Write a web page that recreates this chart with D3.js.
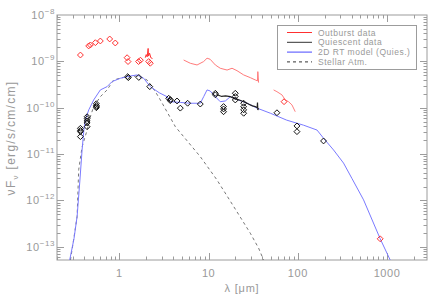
<!DOCTYPE html>
<html><head><meta charset="utf-8">
<script src="https://cdn.jsdelivr.net/npm/d3@7"></script>
<style>body{margin:0;background:#fff}svg{display:block}text{font-family:"Liberation Sans","DejaVu Sans",sans-serif;fill:#999}</style>
</head><body><svg id="c" width="441" height="299"></svg>
<script>
// ---- data ----
const xTicks = [1, 10, 100, 1000];
const xTickLabels = ["1", "10", "100", "1000"];
const yTickExps = [-8, -9, -10, -11, -12, -13];
const legendLabels = ["Outburst data", "Quiescent data", "2D RT model (Quies.)", "Stellar Atm."];

const outburstPhotX = [0.366, 0.453, 0.473, 0.538, 0.612, 0.779, 0.90, 1.22, 1.25, 1.64, 1.72, 2.13, 2.22, 70, 837];
const outburstPhotY = [1.37e-9, 2.15e-9, 2.26e-9, 2.53e-9, 2.75e-9, 3.04e-9, 2.49e-9, 1.2e-9, 0.99e-9, 0.99e-9, 1.06e-9, 0.99e-9, 0.91e-9, 1.35e-10, 1.49e-13];

const outburstNirX = [1.95, 2.0, 2.05, 2.1, 2.12, 2.18, 2.25, 2.35];
const outburstNirY = [1.2e-9, 1.4e-9, 1.25e-9, 1.9e-9, 1.3e-9, 1.5e-9, 1.2e-9, 1.15e-9];

const outburstMirX = [5.25, 6.24, 7.42, 8.79, 9.6, 10.4, 11.9, 13.5, 16.1, 18.3, 20.8, 24.7, 29.3, 33.3, 35.3, 35.6, 36.3];
const outburstMirY = [1.07e-9, 9.1e-10, 8.36e-10, 9.9e-10, 1.17e-9, 1.11e-9, 8.36e-10, 7.1e-10, 6.5e-10, 7.1e-10, 6.3e-10, 5.1e-10, 4.46e-10, 3.98e-10, 3.8e-10, 6.0e-10, 3.48e-10];

const outburstFirX = [53.5, 58.3, 66.4, 72.3, 78.7, 85.9, 93.5];
const outburstFirY = [2.42e-10, 2.22e-10, 1.89e-10, 1.47e-10, 1.35e-10, 1.15e-10, 8.2e-11];

const quiesPhotX = [0.366, 0.366, 0.366, 0.366, 0.435, 0.435, 0.435, 0.435, 0.435, 0.552, 0.552, 0.552, 0.552, 1.24, 1.26, 1.65, 2.19, 3.57, 3.72, 3.72, 4.43, 4.82, 5.82, 8.07, 11.9, 11.9, 14.7, 14.7, 14.7, 19.9, 19.9, 19.9, 24.7, 24.7, 24.7, 24.7, 58.3, 97.7, 97.7, 194];
const quiesPhotY = [3.6e-11, 3.25e-11, 3.05e-11, 2.38e-11, 6.4e-11, 5.8e-11, 5.2e-11, 4.7e-11, 3.9e-11, 1.22e-10, 1.12e-10, 1.05e-10, 1.0e-10, 4.68e-10, 4.45e-10, 4.5e-10, 2.85e-10, 1.6e-10, 1.5e-10, 1.42e-10, 1.4e-10, 9.8e-11, 1.25e-10, 1.2e-10, 2.05e-10, 1.9e-10, 1.06e-10, 9.4e-11, 8.2e-11, 2.05e-10, 1.75e-10, 1.47e-10, 1.25e-10, 1.05e-10, 9.0e-11, 7.6e-11, 7.8e-11, 4.05e-11, 3.05e-11, 1.92e-11];

const quiesSpecX = [12.5, 14, 15.5, 17.5, 19, 20.8, 22.5, 24.7, 27, 29.3, 31, 33.3, 35.0, 35.3, 35.6, 36.3];
const quiesSpecY = [1.9e-10, 1.75e-10, 1.8e-10, 1.73e-10, 1.6e-10, 1.52e-10, 1.45e-10, 1.35e-10, 1.25e-10, 1.15e-10, 1.1e-10, 1.06e-10, 1.0e-10, 1.3e-10, 8.9e-11, 9.8e-11];

const modelX = [0.27, 0.31, 0.336, 0.36, 0.382, 0.40, 0.416, 0.454, 0.515, 0.612, 0.728, 0.828, 1.03, 1.3, 1.58, 1.87, 2.22, 2.8, 3.42, 3.72, 4.82, 6.24, 8.07, 8.8, 9.6, 10.4, 11.9, 13.5, 15.4, 17.5, 20.8, 27, 34.9, 49.3, 75, 116, 164, 194, 251, 325, 403, 545, 837, 1083];
const modelY = [4e-14, 1.5e-13, 4.5e-13, 2.5e-12, 1.23e-11, 3.3e-11, 5.5e-11, 9e-11, 1.47e-10, 2.42e-10, 2.85e-10, 3.66e-10, 4.33e-10, 4.8e-10, 5.1e-10, 4.33e-10, 2.85e-10, 2.1e-10, 1.73e-10, 1.35e-10, 1.3e-10, 1.25e-10, 1.25e-10, 1.73e-10, 2.42e-10, 2.3e-10, 1.73e-10, 1.35e-10, 1.4e-10, 1.73e-10, 1.52e-10, 1.25e-10, 9.8e-11, 7.6e-11, 5.4e-11, 4.2e-11, 3.3e-11, 2.2e-11, 1.23e-11, 6.4e-12, 3e-12, 1.03e-12, 1.49e-13, 5.2e-14];

const stellarX = [0.283, 0.31, 0.336, 0.35, 0.382, 0.435, 0.473, 0.515, 0.612, 0.728, 0.863, 1.12, 1.58, 2.04, 2.53, 2.88, 4.24, 5.25, 8.07, 12.4, 19.1, 29.3, 36.3, 41.3];
const stellarY = [5.2e-14, 1.6e-13, 4.5e-13, 4.6e-12, 1.43e-11, 3.3e-11, 6.4e-11, 1.06e-10, 1.73e-10, 2.42e-10, 3.98e-10, 4.54e-10, 4.84e-10, 3.98e-10, 2.22e-10, 1.47e-10, 3.9e-11, 2.38e-11, 8.8e-12, 2.78e-12, 7.4e-13, 1.97e-13, 9.4e-14, 5.2e-14];

// ---- chart ----
const svg = d3.select("#c");
const L = 57, R = 427, T = 15, B = 260;
const x = d3.scaleLog().domain([0.2, 2800]).range([L, R]);
const y = d3.scaleLog().domain([5.2e-14, 1e-8]).range([B, T]);
const axisCol = "#9c9c9c";

svg.append("defs").append("clipPath").attr("id", "clip")
  .append("rect").attr("x", L).attr("y", T).attr("width", R - L).attr("height", B - T);

svg.append("rect").attr("x", L).attr("y", T).attr("width", R - L).attr("height", B - T)
  .attr("fill", "none").attr("stroke", axisCol).attr("stroke-width", 1);

const xMinor = [];
for (let e = -1; e <= 3; e++) for (let m = 1; m <= 9; m++) { const v = m * Math.pow(10, e); if (v >= 0.2 && v <= 2800) xMinor.push(v); }
const yMinor = [];
for (let e = -14; e <= -9; e++) for (let m = 1; m <= 9; m++) { const v = m * Math.pow(10, e); if (v >= 5.2e-14 && v <= 1e-8) yMinor.push(v); }
const tg = svg.append("g").attr("stroke", axisCol).attr("stroke-width", 1);
xMinor.forEach(v => {
  const major = Math.abs(Math.log10(v) - Math.round(Math.log10(v))) < 1e-9;
  const len = major ? 7 : 3.5;
  const px = Math.round(x(v)) + 0.5;
  tg.append("line").attr("x1", px).attr("x2", px).attr("y1", B).attr("y2", B - len);
  tg.append("line").attr("x1", px).attr("x2", px).attr("y1", T).attr("y2", T + len);
});
yMinor.forEach(v => {
  const major = Math.abs(Math.log10(v) - Math.round(Math.log10(v))) < 1e-9;
  const len = major ? 7 : 3.5;
  const py = Math.round(y(v)) + 0.5;
  tg.append("line").attr("y1", py).attr("y2", py).attr("x1", L).attr("x2", L + len);
  tg.append("line").attr("y1", py).attr("y2", py).attr("x1", R).attr("x2", R - len);
});

xTicks.forEach((v, i) => {
  svg.append("text").attr("x", x(v)).attr("y", 277).attr("text-anchor", "middle")
    .attr("font-size", 11).attr("letter-spacing", 0.6).text(xTickLabels[i]);
});
yTickExps.forEach(e => {
  const t = svg.append("text").attr("x", 55).attr("y", y(Math.pow(10, e)) + 4).attr("text-anchor", "end").attr("font-size", 11).attr("letter-spacing", 0.6);
  t.append("tspan").text("10");
  t.append("tspan").attr("font-size", 8).attr("dy", -5).text("\u2212" + Math.abs(e));
});

svg.append("text").attr("x", 242).attr("y", 292).attr("text-anchor", "middle").attr("font-size", 11)
  .attr("letter-spacing", 0.8).text("\u03bb [\u03bcm]");
const yt = svg.append("text").attr("transform", "translate(15,138) rotate(-90)").attr("text-anchor", "middle")
  .attr("font-size", 12).attr("letter-spacing", 1.3);
yt.append("tspan").text("\u03bdF");
yt.append("tspan").attr("font-size", 8).attr("dy", 3).text("\u03bd");
yt.append("tspan").attr("dy", -3).text(" [erg/s/cm/cm]");

const plot = svg.append("g").attr("clip-path", "url(#clip)");
const line = d3.line().x(d => x(d[0])).y(d => y(d[1]));
const zip = (a, b) => a.map((v, i) => [v, b[i]]);

plot.append("path").attr("d", line(zip(stellarX, stellarY))).attr("fill", "none")
  .attr("stroke", "#777").attr("stroke-width", 1).attr("stroke-dasharray", "3,3");
plot.append("path").attr("d", line(zip(modelX, modelY))).attr("fill", "none")
  .attr("stroke", "#7a7aff").attr("stroke-width", 1);
[[outburstNirX, outburstNirY, "#ff3030"], [outburstMirX, outburstMirY, "#ff7a7a"], [outburstFirX, outburstFirY, "#ff8080"]].forEach(s => {
  plot.append("path").attr("d", line(zip(s[0], s[1]))).attr("fill", "none")
    .attr("stroke", s[2]).attr("stroke-width", 1);
});
plot.append("path").attr("d", line(zip(quiesSpecX, quiesSpecY))).attr("fill", "none")
  .attr("stroke", "#222").attr("stroke-width", 1.2);

const diamond = d3.symbol().type(d3.symbolDiamond2).size(22);
plot.selectAll(".qp").data(zip(quiesPhotX, quiesPhotY)).enter().append("path")
  .attr("d", diamond).attr("transform", d => `translate(${x(d[0])},${y(d[1])})`)
  .attr("fill", "none").attr("stroke", "#111").attr("stroke-width", 1);
plot.selectAll(".op").data(zip(outburstPhotX, outburstPhotY)).enter().append("path")
  .attr("d", diamond).attr("transform", d => `translate(${x(d[0])},${y(d[1])})`)
  .attr("fill", "none").attr("stroke", "#ff3030").attr("stroke-width", 1);

const lg = svg.append("g");
lg.append("rect").attr("x", 277.5).attr("y", 25.5).attr("width", 139).attr("height", 44)
  .attr("fill", "#fff").attr("stroke", axisCol);
const legCols = ["#ff3030", "#333", "#4848ff", "#333"];
legendLabels.forEach((lab, i) => {
  const yy = 32.5 + i * 9.8;
  lg.append("line").attr("x1", 287).attr("x2", 312).attr("y1", yy).attr("y2", yy)
    .attr("stroke", legCols[i]).attr("stroke-width", 1).attr("stroke-dasharray", i === 3 ? "3,3" : null);
  lg.append("text").attr("x", 318).attr("y", yy + 3).attr("font-size", 8.5).attr("letter-spacing", 0.5).text(lab);
});
</script></body></html>
